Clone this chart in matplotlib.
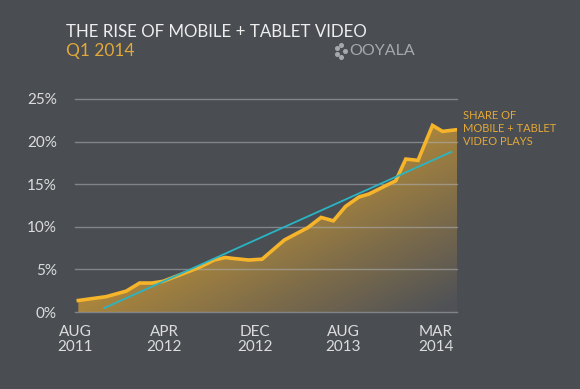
import numpy as np
import matplotlib
matplotlib.use('Agg')
import matplotlib.pyplot as plt
from matplotlib.lines import Line2D

plt.rcParams['font.family'] = ['Lato', 'DejaVu Sans']

# data: months after Aug 2011, share of plays (%)
months = [0.0, 2.5, 4.3, 5.5, 6.6, 7.6, 10.8, 12.2, 13.2, 13.8, 15.3, 16.5,
          18.5, 20.6, 21.8, 22.9, 24.0, 25.2, 26.1, 27.4, 28.5, 29.4, 30.5,
          31.8, 32.7, 34.0]
share = [1.35, 1.8, 2.45, 3.4, 3.4, 3.6, 5.2, 6.1, 6.4, 6.3, 6.1, 6.2,
         8.45, 9.9, 11.1, 10.7, 12.4, 13.5, 13.85, 14.7, 15.4, 17.95, 17.8,
         21.9, 21.2, 21.4]
trend_x = [2.3, 33.5]
trend_y = [0.45, 18.8]

yticks = [0, 5, 10, 15, 20, 25]
ytick_labels = ['0%', '5%', '10%', '15%', '20%', '25%']
xtick_pos = [-0.3, 7.7, 15.9, 23.8, 32.1]
xtick_labels = ['AUG\n2011', 'APR\n2012', 'DEC\n2012', 'AUG\n2013', 'MAR\n2014']

bg = '#4a4d52'
gold_line = '#f5b42a'
gold_text = '#e3a83a'
cyan = '#2ab5c4'
light = '#dcdcdc'

fig = plt.figure(figsize=(5.8, 3.89), dpi=100, facecolor=bg)
ax = fig.add_axes([75/580, 1-312/389, 382/580, 213/389])
ax.set_facecolor(bg)
ax.set_xlim(0, 34)
ax.set_ylim(0, 25)

# gradient fill under the line
poly = ax.fill_between(months, share, 0, color='none', lw=0, zorder=2)
nx, ny = 300, 200
xx, yy = np.meshgrid(np.linspace(0, 1, nx), np.linspace(1, 0, ny))
t = np.clip(1.05 * xx - 1.15 * yy, 0, 1)[..., None]
c0 = np.array([0.66, 0.52, 0.24])
c1 = np.array([0.31, 0.32, 0.34])
img = c0 * (1 - t) + c1 * t
im = ax.imshow(img, extent=[0, 34, 0, 25], aspect='auto', zorder=2)
im.set_clip_path(poly.get_paths()[0], transform=ax.transData)

# grid lines
for y in yticks:
    ax.axhline(y, color='#b0b2b5', alpha=0.55, lw=1, clip_on=False, zorder=3)

ax.plot(months, share, color=gold_line, lw=2.6, solid_joinstyle='miter', zorder=4)
ax.plot(trend_x, trend_y, color=cyan, lw=1.3, zorder=5)

ax.set_yticks(yticks)
ax.set_yticklabels(ytick_labels)
ax.set_xticks(xtick_pos)
ax.set_xticklabels(xtick_labels, linespacing=1.15)
ax.tick_params(length=0, colors=light, labelsize=11)
ax.tick_params(axis='y', pad=13)
ax.tick_params(axis='x', pad=9)
for s in ax.spines.values():
    s.set_visible(False)

# titles
fig.text(66/580, 1-32/389, 'THE RISE OF MOBILE + TABLET VIDEO', color='#eeeeee',
         fontsize=12.2, va='center', ha='left')
fig.text(66/580, 1-51/389, 'Q1 2014', color=gold_text, fontsize=12.5,
         va='center', ha='left')
fig.text(349/580, 1-51/389, 'OOYALA', color='#a6a8ab', fontsize=11.5,
         va='center', ha='left')
dots_x = np.array([337, 341, 337, 341, 345]) / 580
dots_y = 1 - np.array([48, 45, 54, 57, 51]) / 389
fig.add_artist(Line2D(dots_x, dots_y, ls='none', marker='o', ms=2.6,
                      color='#a6a8ab', transform=fig.transFigure))

fig.text(463/580, 1-110/389, 'SHARE OF\nMOBILE + TABLET\nVIDEO PLAYS',
         color=gold_text, fontsize=8, va='top', ha='left', linespacing=1.2)

fig.savefig('out.png', dpi=100, facecolor=bg)
